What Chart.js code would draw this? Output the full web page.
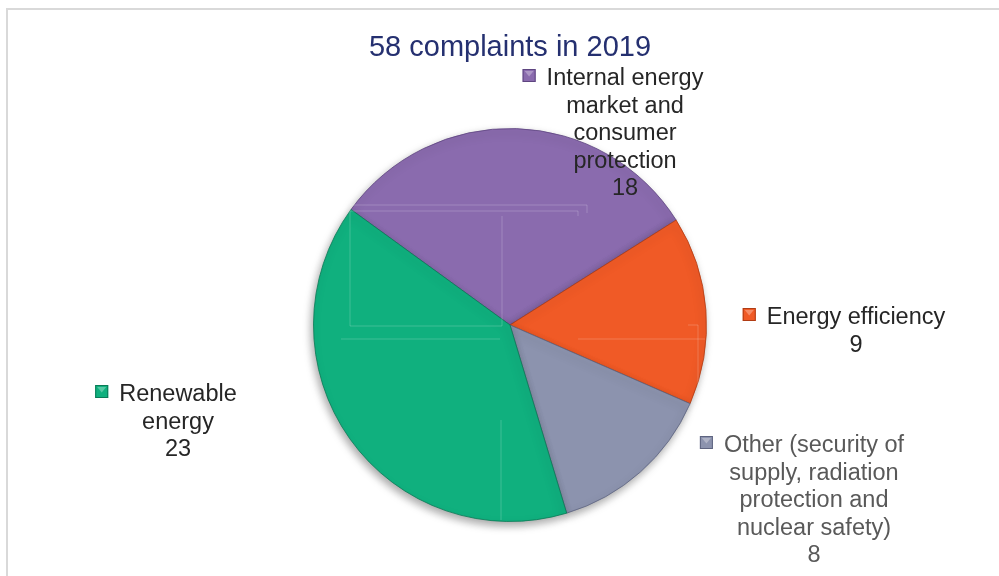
<!DOCTYPE html>
<html>
<head>
<meta charset="utf-8">
<script src="https://cdn.jsdelivr.net/npm/chart.js@4"></script>
<style>
  html, body { margin: 0; padding: 0; background: #ffffff; overflow: hidden; }
  canvas { display: block; }
</style>
</head>
<body>
<canvas id="pieChart" width="999" height="576"></canvas>
<script>
/* --------------- Data --------------------- */
const chartTitle = "58 complaints in 2019";
const categories = [
  ["Internal energy", "market and", "consumer", "protection"],
  ["Energy efficiency"],
  ["Other (security of", "supply, radiation", "protection and", "nuclear safety)"],
  ["Renewable", "energy"],
];
const complaints = [18, 9, 8, 23];

/* --------------- Colors --------------------- */
const sliceColors = ["#8A6BAE", "#F05A26", "#8C93AE", "#10B07E"];
const edgeColors = ["#5E4580", "#B03C14", "#5E6480", "#0A7A56"];
const labelColors = ["#262626", "#262626", "#595959", "#262626"];

/* --------------- Label placement (text block center x, first baseline y) --------------------- */
const labelPos = [
  { x: 625, y: 85 },
  { x: 856, y: 324 },
  { x: 814, y: 452 },
  { x: 178, y: 401 },
];

const FONT = "Liberation Sans, Arial, sans-serif";

function shade(hex, amt) {
  const n = parseInt(hex.slice(1), 16);
  let r = (n >> 16) & 255, g = (n >> 8) & 255, b = n & 255;
  const f = (c) => Math.max(0, Math.min(255, Math.round(amt > 0 ? c + (255 - c) * amt : c * (1 + amt))));
  return `rgb(${f(r)},${f(g)},${f(b)})`;
}

/* --------------- Frame, title, shadow, labels --------------------- */
const decorPlugin = {
  id: "decor",
  beforeDraw(chart) {
    const ctx = chart.ctx;
    ctx.save();
    // frame: only top and left edges fall inside the picture
    ctx.strokeStyle = "#D9D9D9";
    ctx.lineWidth = 2;
    ctx.beginPath();
    ctx.moveTo(7, 576); ctx.lineTo(7, 9); ctx.lineTo(999, 9);
    ctx.stroke();
    ctx.fillStyle = "#253070";
    ctx.font = `29px ${FONT}`;
    ctx.textAlign = "center";
    ctx.textBaseline = "alphabetic";
    ctx.fillText(chartTitle, 510, 56);
    ctx.restore();
  },
  beforeDatasetsDraw(chart) {
    const ctx = chart.ctx;
    ctx.save();
    ctx.shadowColor = "rgba(0,0,0,0.35)";
    ctx.shadowBlur = 9;
    ctx.shadowOffsetX = -2;
    ctx.shadowOffsetY = 4;
  },
  afterDatasetsDraw(chart) {
    const ctx = chart.ctx;
    ctx.restore();
    // faint leader lines
    const arc = chart.getDatasetMeta(0).data[0];
    const cx = arc.x, cy = arc.y;
    ctx.save();
    ctx.strokeStyle = "rgba(255,255,255,0.2)";
    ctx.lineWidth = 1;
    ctx.beginPath();
    ctx.moveTo(cx - 160, cy - 114); ctx.lineTo(cx + 68, cy - 114); ctx.lineTo(cx + 68, cy - 109);
    ctx.moveTo(cx - 160, cy - 120); ctx.lineTo(cx + 77, cy - 120); ctx.lineTo(cx + 77, cy - 112);
    ctx.moveTo(cx - 160, cy - 114); ctx.lineTo(cx - 160, cy + 1); ctx.lineTo(cx - 8, cy + 1);
    ctx.moveTo(cx - 8, cy - 109); ctx.lineTo(cx - 8, cy + 1);
    ctx.moveTo(cx - 169, cy + 14); ctx.lineTo(cx - 10, cy + 14);
    ctx.moveTo(cx + 68, cy + 14); ctx.lineTo(cx + 195, cy + 14);
    ctx.moveTo(cx + 178, cy); ctx.lineTo(cx + 188, cy); ctx.lineTo(cx + 188, cy + 60);
    ctx.moveTo(cx - 9, cy + 95); ctx.lineTo(cx - 9, cy + 195);
    ctx.stroke();
    ctx.restore();
  },
  afterDraw(chart) {
    const ctx = chart.ctx;
    ctx.save();
    ctx.font = `23.5px ${FONT}`;
    ctx.textBaseline = "alphabetic";
    const lh = 27.5;
    categories.forEach((lines, i) => {
      const p = labelPos[i];
      const all = lines.concat([String(complaints[i])]);
      ctx.fillStyle = labelColors[i];
      ctx.textAlign = "center";
      all.forEach((t, j) => ctx.fillText(t, p.x, p.y + j * lh));
      // legend key
      const w = ctx.measureText(lines[0]).width;
      const sx = p.x - w / 2 - 24, sy = p.y - 16, s = 13;
      ctx.fillStyle = sliceColors[i];
      ctx.fillRect(sx, sy, s, s);
      ctx.fillStyle = shade(sliceColors[i], 0.3);
      ctx.beginPath();
      ctx.moveTo(sx + 2, sy + 2); ctx.lineTo(sx + s - 2, sy + 2); ctx.lineTo(sx + s / 2, sy + s / 2 + 1); ctx.closePath();
      ctx.fill();
      ctx.strokeStyle = edgeColors[i];
      ctx.lineWidth = 1;
      ctx.strokeRect(sx + 0.5, sy + 0.5, s - 1, s - 1);
    });
    ctx.restore();
  },
};

/* --------------- Bevel-ish slice fill --------------------- */
function sliceFill(context) {
  const base = sliceColors[context.dataIndex];
  const chart = context.chart;
  const meta = chart.getDatasetMeta(0);
  const el = meta.data[context.dataIndex];
  if (!el || !el.outerRadius) return base;
  const g = chart.ctx.createRadialGradient(el.x, el.y, 0, el.x, el.y, el.outerRadius);
  g.addColorStop(0, base);
  g.addColorStop(0.9, base);
  g.addColorStop(0.955, shade(base, 0.12));
  g.addColorStop(1, shade(base, -0.22));
  return g;
}

/* --------------- Chart --------------------- */
const pieChart = new Chart(document.getElementById("pieChart"), {
  type: "pie",
  plugins: [decorPlugin],
  data: {
    labels: categories.map((c) => c.join(" ")),
    datasets: [
      {
        data: complaints,
        backgroundColor: sliceFill,
        borderColor: edgeColors.map((c) => c + "CC"),
        borderWidth: 1,
      },
    ],
  },
  options: {
    responsive: false,
    animation: false,
    rotation: -54,
    layout: { padding: { top: 128, bottom: 54, left: 313, right: 292 } },
    plugins: {
      legend: { display: false },
      tooltip: { enabled: false },
      title: { display: false },
    },
  },
});
</script>
</body>
</html>
